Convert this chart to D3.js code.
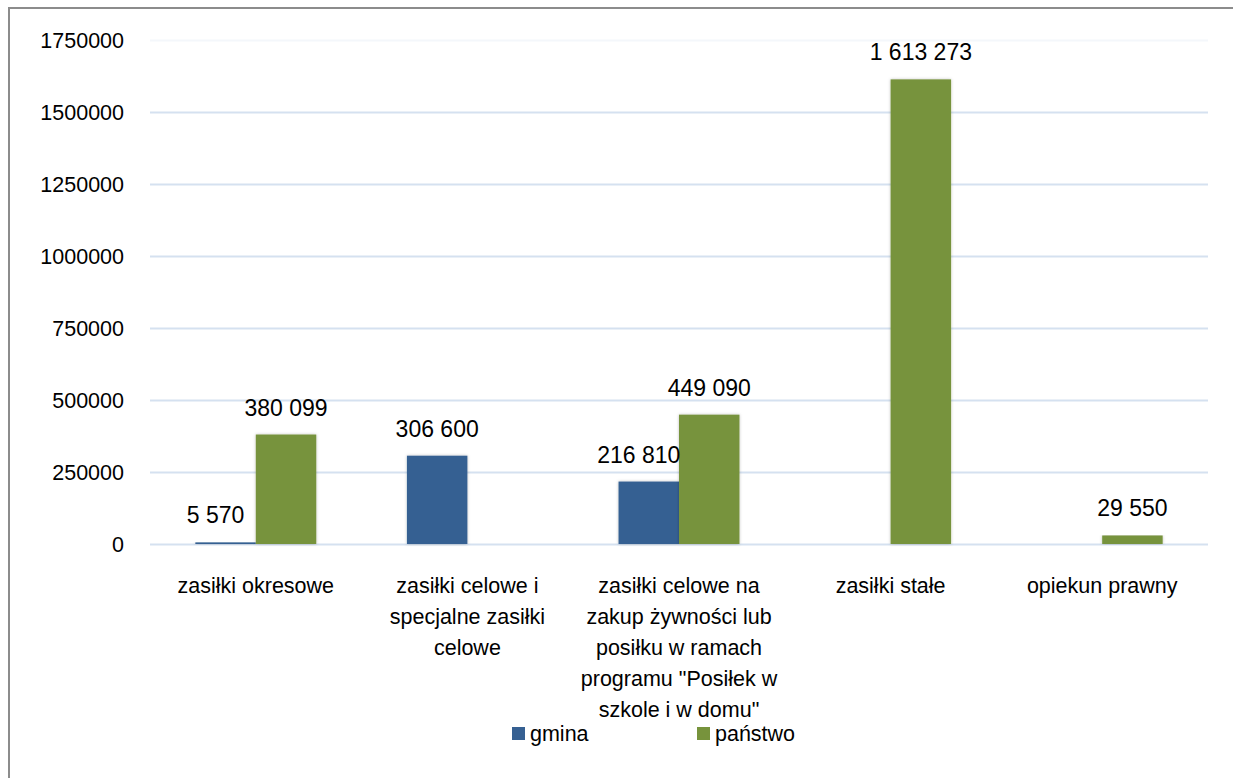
<!DOCTYPE html>
<html><head><meta charset="utf-8">
<script src="https://cdn.jsdelivr.net/npm/d3@7"></script>
<style>
body{margin:0;background:#fff;}
svg{display:block;font-family:"Liberation Sans",Arial,sans-serif;}
</style></head>
<body><svg id="c" width="1233" height="778"></svg>
<script>
const categories = [
  "zasiłki okresowe",
  "zasiłki celowe i\nspecjalne zasiłki\ncelowe",
  "zasiłki celowe na\nzakup żywności lub\nposiłku w ramach\nprogramu \"Posiłek w\nszkole i w domu\"",
  "zasiłki stałe",
  "opiekun prawny"
];
const seriesNames = ["gmina", "państwo"];
const gmina = [5570, 306600, 216810, null, null];
const panstwo = [380099, null, 449090, 1613273, 29550];
const yTicks = [0, 250000, 500000, 750000, 1000000, 1250000, 1500000, 1750000];
const colors = ["#366092", "#77933C"];

const svg = d3.select("#c");
const defs = svg.append("defs");
const f = defs.append("filter").attr("id","sh").attr("x","-20%").attr("y","-5%").attr("width","140%").attr("height","110%");
f.append("feDropShadow").attr("dx",0).attr("dy",0).attr("stdDeviation",1.5).attr("flood-color","#000").attr("flood-opacity",0.25);

// border
svg.append("path").attr("d","M9,778 V8 H1233").attr("fill","none").attr("stroke","#8c8c8c").attr("stroke-width",2);

const y = d3.scaleLinear().domain([0,1750000]).range([544,40]);
const x0 = d3.scaleBand().domain(categories).range([150,1208]).padding(0);
const x1 = d3.scaleBand().domain(seriesNames).range([0,x0.bandwidth()]).paddingInner(0).paddingOuter(0.75);

// gridlines
svg.append("g").selectAll("line").data(yTicks).join("line")
  .attr("x1",150).attr("x2",1208)
  .attr("y1",d=>y(d)+0.5).attr("y2",d=>y(d)+0.5)
  .attr("stroke", d=> d===1750000 ? "#f4f7fb" : "#d5e1f0").attr("stroke-width",2);

// y axis labels
const yAxis = d3.axisLeft(y).tickValues(yTicks).tickFormat(d3.format("d")).tickSize(0).tickPadding(0);
const ga = svg.append("g").attr("transform","translate(124,0)").call(yAxis);
ga.select(".domain").remove();
ga.selectAll("text").attr("font-size","21.5px").attr("fill","#000").attr("font-family","Liberation Sans, Arial, sans-serif").attr("dy","0.36em");

// bars
const data = [];
categories.forEach((c,i)=>{
  if (gmina[i]!=null) data.push({c, s:"gmina", v:gmina[i], k:0, pair: panstwo[i]!=null});
  if (panstwo[i]!=null) data.push({c, s:"państwo", v:panstwo[i], k:1, pair: gmina[i]!=null});
});
svg.append("g").selectAll("rect").data(data).join("rect")
  .attr("x", d=>x0(d.c)+x1(d.s))
  .attr("width", x1.bandwidth())
  .attr("y", d=>y(d.v))
  .attr("height", d=>y(0)-y(d.v))
  .attr("fill", d=>colors[d.k])
  .attr("filter","url(#sh)");

// value labels
const fmt = v => d3.format(",")(v).replace(/,/g," ");
svg.append("g").selectAll("text").data(data).join("text")
  .attr("x", d=>x0(d.c)+x1(d.s)+x1.bandwidth()/2 + (d.k===0 && d.pair ? -10 : 0))
  .attr("y", d=>y(d.v)-19)
  .attr("text-anchor","middle")
  .attr("font-size","23px")
  .attr("fill","#000")
  .text(d=>fmt(d.v));

// category labels
const cl = svg.append("g").selectAll("text").data(categories).join("text")
  .attr("x", d=>x0(d)+x0.bandwidth()/2)
  .attr("y", 593)
  .attr("text-anchor","middle")
  .attr("font-size","21.5px")
  .attr("fill","#000");
cl.each(function(d){
  const t = d3.select(this);
  d.split("\n").forEach((line,i)=>{
    t.append("tspan").attr("x", x0(d)+x0.bandwidth()/2).attr("dy", i===0?0:31).text(line);
  });
});

// legend
const lg = svg.append("g");
const legX = [512, 697];
seriesNames.forEach((s,i)=>{
  lg.append("rect").attr("x",legX[i]).attr("y",727).attr("width",13).attr("height",13).attr("fill",colors[i]);
  lg.append("text").attr("x",legX[i]+18).attr("y",741).attr("font-size","21.5px").attr("fill","#000").text(s);
});
</script>
</body></html>
